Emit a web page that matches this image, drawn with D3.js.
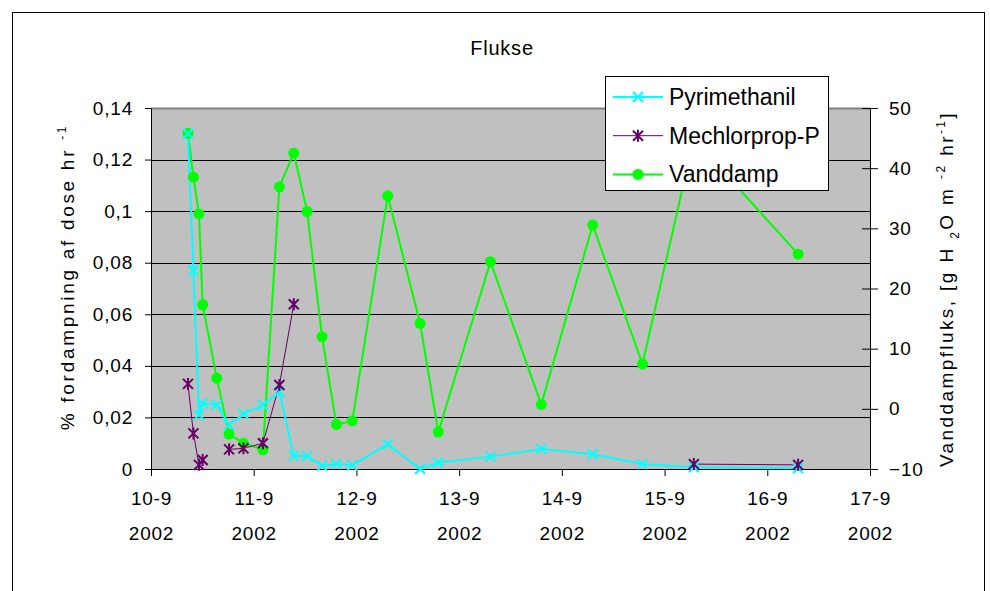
<!DOCTYPE html>
<html>
<head>
<meta charset="utf-8">
<script src="https://cdn.jsdelivr.net/npm/d3@7"></script>
<style>
    body { margin: 0; background: #fff; }
    svg { display: block; font-family: "Liberation Sans", Arial, sans-serif; }
</style>
</head>
<body>
<div id="chart"></div>
<script>
// sample times, day of September 2002
const times = [10.36, 10.413, 10.467, 10.503, 10.64, 10.76, 10.90, 11.09, 11.25, 11.39, 11.52, 11.665,
    11.805, 11.96, 12.305, 12.62, 12.797, 13.305, 13.80, 14.30, 14.785, 15.285, 16.30];

// % of dose per hour (left axis)
const pyrimethanil = [0.130, 0.077, 0.021, 0.0255, 0.0248, 0.0171, 0.0213, 0.0248, 0.030, 0.005, 0.005,
    0.0012, 0.002, 0.0014, 0.0096, 0.0, 0.0024, 0.0048, 0.0078, 0.0057, 0.0019, 0.0007, 0.0003];
const mechlorprop = [0.033, 0.0138, 0.0016, 0.0035, null, 0.0076, 0.008, 0.010, 0.0326, 0.0639, null,
    null, null, null, null, null, null, null, null, null, null, 0.0019, 0.0016];

// water vapour flux (right axis)
const vanddamp = [45.8, 38.5, 32.4, 17.3, 5.1, -4.2, -5.7, -6.8, 36.9, 42.5, 32.8, 12.0, -2.6, -2.0,
    35.4, 14.2, -3.85, 24.45, 0.7, 30.55, 7.45, 44.9, 25.7];

const xTicks = [10, 11, 12, 13, 14, 15, 16, 17];
const leftTicks = [0, 0.02, 0.04, 0.06, 0.08, 0.1, 0.12, 0.14];
const rightTicks = [-10, 0, 10, 20, 30, 40, 50];

const seriesNames = ['Pyrimethanil', 'Mechlorprop-P', 'Vanddamp'];

// container
const width = 990;
const height = 591;

let svg = d3.select('#chart')
    .append('svg')
    .attr('width', width)
    .attr('height', height);

// chart border
svg.append('rect')
    .attr('x', 12.5)
    .attr('y', 12.5)
    .attr('width', 972)
    .attr('height', 620)
    .attr('fill', 'none')
    .attr('stroke', '#000');

svg.append('text')
    .attr('x', 502)
    .attr('y', 55)
    .attr('text-anchor', 'middle')
    .style('font-size', '20px')
    .style('letter-spacing', '0.8px')
    .text('Flukse');

// plot area
let plot = { left: 151, right: 870, top: 108, bottom: 469 };

let xScale = d3.scaleLinear().domain([10, 17]).range([plot.left, plot.right]);
let yLeft = d3.scaleLinear().domain([0, 0.14]).range([plot.bottom, plot.top]);
let yRight = d3.scaleLinear().domain([-10, 50]).range([plot.bottom, plot.top]);

svg.append('rect')
    .attr('x', plot.left)
    .attr('y', plot.top)
    .attr('width', plot.right - plot.left)
    .attr('height', plot.bottom - plot.top)
    .attr('fill', '#c0c0c0');

// gridlines
svg.append('g')
    .selectAll('line')
    .data(leftTicks.slice(1))
    .enter()
    .append('line')
    .attr('x1', plot.left)
    .attr('x2', plot.right)
    .attr('y1', d => Math.round(yLeft(d)) + 0.5)
    .attr('y2', d => Math.round(yLeft(d)) + 0.5)
    .attr('stroke', d => d === 0.14 ? '#808080' : '#000')
    .attr('stroke-width', d => d === 0.14 ? 2 : 1);

const comma = d => String(+d.toFixed(2)).replace('.', ',');

// left axis
let leftAxis = svg.append('g')
    .attr('transform', `translate(${plot.left},0)`)
    .call(d3.axisLeft(yLeft).tickValues(leftTicks).tickFormat(comma).tickSize(6).tickPadding(12));

// right axis
let rightAxis = svg.append('g')
    .attr('transform', `translate(${plot.right},0)`)
    .call(d3.axisRight(yRight).tickValues(rightTicks).tickSize(8).tickPadding(11));
rightAxis.selectAll('.tick line').attr('x1', -8);

// x axis
let xAxis = svg.append('g')
    .attr('transform', `translate(0,${plot.bottom})`)
    .call(d3.axisBottom(xScale).tickValues(xTicks).tickSize(7).tickPadding(0));
xAxis.selectAll('.tick text').each(function (d) {
    let t = d3.select(this).text(null).attr('y', 0).attr('dy', null);
    t.append('tspan').attr('x', 0).attr('y', 36).text(`${d}-9`);
    t.append('tspan').attr('x', 0).attr('y', 71).text('2002');
});

[leftAxis, rightAxis, xAxis].forEach(a => {
    a.select('.domain').attr('stroke', '#000');
    a.selectAll('.tick line').attr('stroke', '#000');
    a.selectAll('text')
        .attr('fill', '#000')
        .style('font-family', '"Liberation Sans", Arial, sans-serif')
        .style('font-size', '19px')
        .style('letter-spacing', '0.8px');
});

// axis titles
svg.append('text')
    .attr('transform', 'translate(74,277) rotate(-90)')
    .attr('text-anchor', 'middle')
    .style('font-size', '19px')
    .style('letter-spacing', '2.7px')
    .call(t => {
        t.append('tspan').text('% fordampning af dose hr ');
        t.append('tspan').attr('dy', -8).style('font-size', '12px').text('-1');
    });

svg.append('text')
    .attr('transform', 'translate(953,289) rotate(-90)')
    .attr('text-anchor', 'middle')
    .style('font-size', '19px')
    .style('letter-spacing', '2.4px')
    .call(t => {
        t.append('tspan').text('Vanddampfluks, [g H ');
        t.append('tspan').attr('dy', 6).style('font-size', '12px').text('2');
        t.append('tspan').attr('dy', -6).text('O m ');
        t.append('tspan').attr('dy', -8).style('font-size', '12px').text('-2');
        t.append('tspan').attr('dy', 8).text(' hr');
        t.append('tspan').attr('dy', -8).style('font-size', '12px').text('-1');
        t.append('tspan').attr('dy', 8).text(']');
    });

// series
const rows = times.map((t, i) => ({ t, p: pyrimethanil[i], m: mechlorprop[i], v: vanddamp[i] }));

const colors = { p: '#00ffff', m: '#660066', v: '#00ff00' };

let lineGroup = svg.append('g');

lineGroup.append('path')
    .datum(rows)
    .attr('fill', 'none')
    .attr('stroke', colors.v)
    .attr('stroke-width', 2)
    .attr('d', d3.line().x(d => xScale(d.t)).y(d => yRight(d.v)));

lineGroup.append('path')
    .datum(rows)
    .attr('fill', 'none')
    .attr('stroke', colors.p)
    .attr('stroke-width', 2)
    .attr('d', d3.line().x(d => xScale(d.t)).y(d => yLeft(d.p)));

lineGroup.append('path')
    .datum(rows)
    .attr('fill', 'none')
    .attr('stroke', colors.m)
    .attr('stroke-width', 1)
    .attr('d', d3.line().defined(d => d.m !== null).x(d => xScale(d.t)).y(d => yLeft(d.m)));

// markers
const crossPath = 'M-5,-5L5,5M-5,5L5,-5';
const starPath = 'M-5,-5L5,5M-5,5L5,-5M0,-6L0,6';

lineGroup.append('g')
    .selectAll('circle')
    .data(rows)
    .enter()
    .append('circle')
    .attr('cx', d => xScale(d.t))
    .attr('cy', d => yRight(d.v))
    .attr('r', 5.5)
    .attr('fill', colors.v);

lineGroup.append('g')
    .selectAll('path')
    .data(rows)
    .enter()
    .append('path')
    .attr('transform', d => `translate(${xScale(d.t)},${yLeft(d.p)})`)
    .attr('d', crossPath)
    .attr('stroke', colors.p)
    .attr('stroke-width', 2);

lineGroup.append('g')
    .selectAll('path')
    .data(rows.filter(d => d.m !== null))
    .enter()
    .append('path')
    .attr('transform', d => `translate(${xScale(d.t)},${yLeft(d.m)})`)
    .attr('d', starPath)
    .attr('stroke', colors.m)
    .attr('stroke-width', 2);

// legend
let legend = svg.append('g').attr('transform', 'translate(605,76)');
legend.append('rect')
    .attr('x', 0.5)
    .attr('y', 0.5)
    .attr('width', 223)
    .attr('height', 114)
    .attr('fill', '#fff')
    .attr('stroke', '#000');

let items = legend.selectAll('.item')
    .data(seriesNames)
    .enter()
    .append('g')
    .attr('transform', (d, i) => `translate(0,${21 + i * 38.7})`);

items.append('line')
    .attr('x1', 8)
    .attr('x2', 58)
    .attr('stroke', (d, i) => colors['pmv'[i]])
    .attr('stroke-width', (d, i) => i === 1 ? 1 : 2);

items.each(function (d, i) {
    let g = d3.select(this);
    if (i === 0) g.append('path').attr('d', crossPath).attr('transform', 'translate(33,0)')
        .attr('stroke', colors.p).attr('stroke-width', 2);
    if (i === 1) g.append('path').attr('d', starPath).attr('transform', 'translate(33,0)')
        .attr('stroke', colors.m).attr('stroke-width', 2);
    if (i === 2) g.append('circle').attr('cx', 33).attr('r', 5.5).attr('fill', colors.v);
});

items.append('text')
    .attr('x', 64)
    .attr('y', 8)
    .style('font-size', '23px')
    .text(d => d);
</script>
</body>
</html>
